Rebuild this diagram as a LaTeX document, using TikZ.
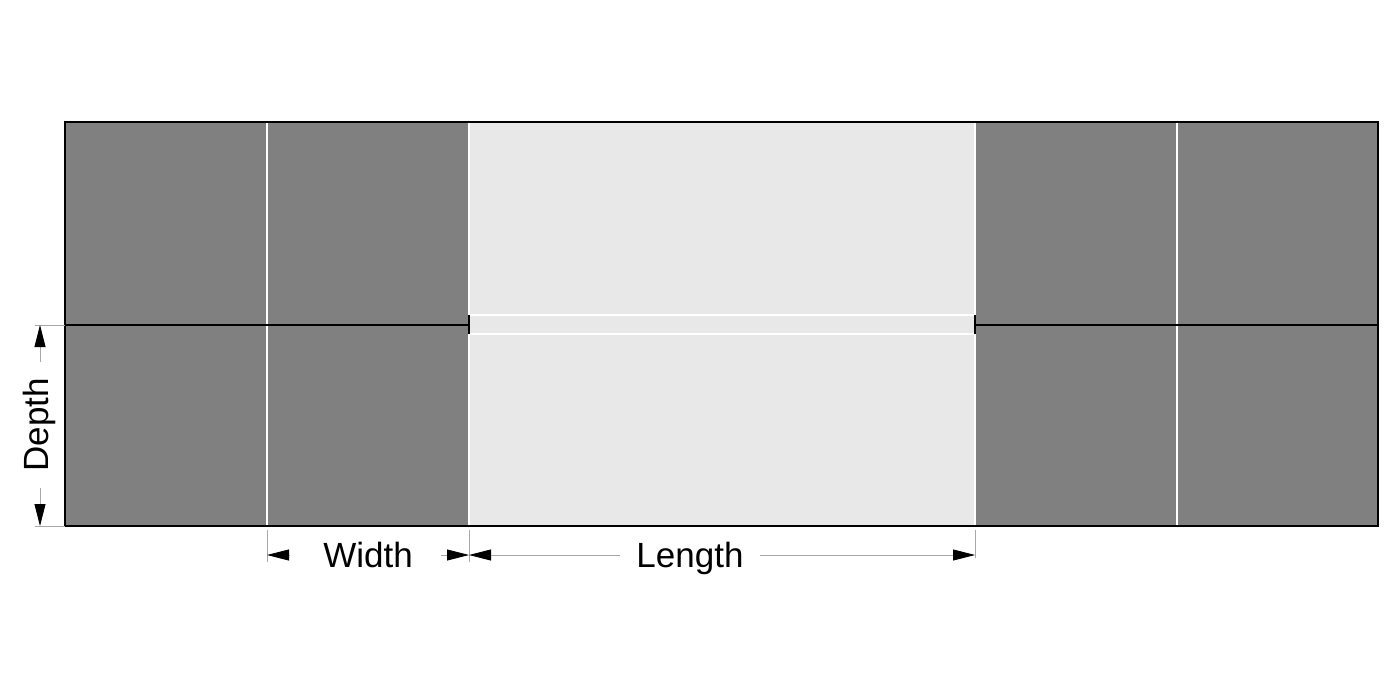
\documentclass[tikz,border=0pt]{standalone}
\usepackage{fontspec}
\setmainfont{Liberation Sans}
\usetikzlibrary{arrows.meta}
\definecolor{blockgray}{HTML}{808080}
\definecolor{aislegray}{HTML}{E8E8E8}
\definecolor{dimgray}{HTML}{A8A8A8}

\begin{document}
\begin{tikzpicture}[x=0.5pt,y=0.5pt]
\tikzstyle{every node}+=[inner sep=0pt,font=\fontsize{17.5}{18}\selectfont]
\tikzstyle{dimline}=[draw=dimgray,line width=0.4pt]
\tikzstyle{dimarrow}=[dimline,-{Triangle[length=11pt,width=5.5pt,color=black]}]
\useasboundingbox (0,0) rectangle (1400,-700);
% racks and aisle
\fill [blockgray] (65,-122) rectangle (469,-526);
\fill [blockgray] (975,-122) rectangle (1378,-526);
\fill [aislegray] (469,-122) rectangle (975,-526);
\draw [white,line width=1pt] (267,-122) -- (267,-526);
\draw [white,line width=1pt] (469,-122) -- (469,-526);
\draw [white,line width=1pt] (975,-122) -- (975,-526);
\draw [white,line width=1pt] (1177,-122) -- (1177,-526);
\draw [white,line width=1pt] (469,-315) -- (975,-315);
\draw [white,line width=1pt] (469,-334) -- (975,-334);
\draw [black,line width=1pt] (65,-325) -- (469,-325);
\draw [black,line width=1pt] (975,-325) -- (1378,-325);
\draw [black,line width=1.2pt] (469,-315) -- (469,-334);
\draw [black,line width=1.2pt] (975,-315) -- (975,-334);
\draw [black,line width=0.8pt] (65,-122) rectangle (1378,-526);
% extension lines
\draw [dimline] (267,-530) -- (267,-562);
\draw [dimline] (469,-530) -- (469,-562);
\draw [dimline] (975,-530) -- (975,-558);
\draw [dimline] (35,-325) -- (65,-325);
\draw [dimline] (35,-526) -- (65,-526);
% labels
\node [anchor=base] (width) at (368,-567) {Width};
\node [anchor=base] (length) at (690,-567) {Length};
\node [rotate=90] (depth) at (39,-425) {Depth};
\coordinate (wl) at (267,-555);
\coordinate (wr) at (469,-555);
\coordinate (lr) at (975,-555);
\coordinate (dt) at (40,-325);
\coordinate (db) at (40,-526);
\coordinate (wls) at (290,-555);
\coordinate (wrs) at (441,-555);
\coordinate (lls) at (620,-555);
\coordinate (lrs) at (760,-555);
\coordinate (dts) at (40,-362);
\coordinate (dbs) at (40,-488);
% dimension arrows
\draw [dimarrow] (wls) -- (wl);
\draw [dimarrow] (wrs) -- (wr);
\draw [dimarrow] (lls) -- (wr);
\draw [dimarrow] (lrs) -- (lr);
\draw [dimarrow] (dts) -- (dt);
\draw [dimarrow] (dbs) -- (db);
\end{tikzpicture}
\end{document}
